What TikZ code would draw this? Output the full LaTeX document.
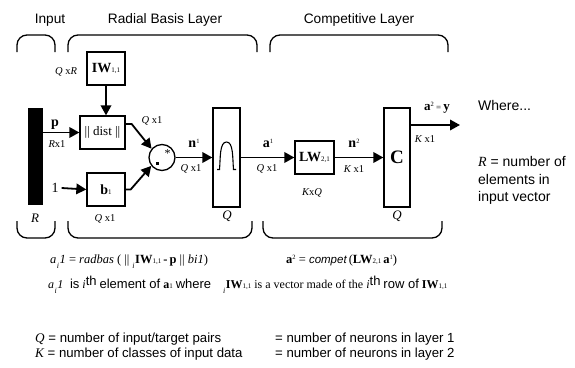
\documentclass[tikz,border=0pt]{standalone}
\usepackage{fontspec}
\setmainfont{Liberation Sans}
\newfontfamily\hel{Liberation Sans}
\newfontfamily\tms{Liberation Serif}
\usetikzlibrary{arrows.meta}
\newcommand{\fs}[1]{\fontsize{#1}{#1}\selectfont}
\newcommand{\bsub}[1]{{\tms\mdseries\upshape\fs{7}#1}}
\newcommand{\bsup}[1]{\raisebox{3.5pt}{\tms\mdseries\upshape\fs{6.5}#1}}
\newcommand{\isub}{\raisebox{-5pt}{\fs{8}\itshape i}}
\newcommand{\aione}{{\itshape a}\kern0.5pt\isub\kern0.5pt{\itshape 1}}
\begin{document}
\begin{tikzpicture}[x=1pt,y=-1pt,
  blk/.style={draw, line width=1.3pt, fill=white, inner sep=0pt},
  sig/.style={line width=1.8pt, -{Triangle[length=10pt,width=10.5pt]}},
  brc/.style={line width=1.3pt, rounded corners=10pt},
  dim/.style={font=\tms\fs{10.5}, inner sep=0pt},
  lbl/.style={font=\hel\fs{13.7}, inner sep=0pt},
  txt/.style={inner sep=0pt, anchor=base west}]
\useasboundingbox (0,0) rectangle (575,367);
\fill[white] (0,0) rectangle (575,367);

% titles
\node[lbl, anchor=base] (tin) at (50,23) {Input};
\node[lbl, anchor=base] (trb) at (165,23) {Radial Basis Layer};
\node[lbl, anchor=base] (tcl) at (359,23) {Competitive Layer};

% braces
\draw[brc] (17,52) -- (17,35) -- (55,35) -- (55,52);
\draw[brc] (68,52) -- (68,35) -- (257,35) -- (257,52);
\draw[brc] (270,52) -- (270,35) -- (448,35) -- (448,52);
\draw[brc] (17,221) -- (17,238) -- (55,238) -- (55,221);
\draw[brc] (68,221) -- (68,238) -- (252,238) -- (252,221);
\draw[brc] (263,221) -- (263,238) -- (442,238) -- (442,221);

% input bar
\node[fill=black, minimum width=15pt, minimum height=97pt, inner sep=0pt] (bar) at (35.5,156.5) {};
\node[font=\tms\fs{13}\itshape, inner sep=0pt] (rlab) at (35,218) {R};

% boxes
\node[blk, minimum width=38pt, minimum height=33pt] (iw) at (106,68.5) {\tms\bfseries\fs{14}IW\bsub{1,1}};
\node[blk, minimum width=45pt, minimum height=33pt] (dist) at (102.5,132.5) {\tms\fs{13}|| dist ||};
\node[blk, minimum width=38pt, minimum height=33pt] (b) at (106,189.5) {\tms\bfseries\fs{14}b\bsub{1}};
\node[circle, draw, line width=1.3pt, minimum size=26pt, inner sep=0pt] (circ) at (162,157.5) {};
\node[blk, minimum width=27pt, minimum height=99pt] (tf) at (226.5,157.5) {};
\node[blk, minimum width=39pt, minimum height=33pt] (lw) at (314.5,157.5) {\tms\bfseries\fs{14}LW\bsub{2,1}};
\node[blk, minimum width=26pt, minimum height=99pt] (c) at (397,157.5) {\tms\bfseries\fs{19}C};
\coordinate (out) at (460,125);

% circle content
\fill (155.5,161.5) rectangle (159,165);
\node[font=\tms\fs{12}, inner sep=0pt] (star) at (167.5,153.5) {*};

% bell
\draw[line width=1.1pt] (217,169.5) -- (219.5,169.5) .. controls (220.5,158) and (219.5,142) .. (226.5,142)
  .. controls (233.5,142) and (232.5,158) .. (233.5,169.5) -- (236,169.5);

% connectors
\draw[sig] (bar.east |- dist.west) -- (dist.west);
\draw[sig] (iw.south) -- (iw.south |- dist.north);
\node[font=\tms\fs{14}, inner sep=0pt] (one) at (55,188) {1};
\draw[sig] (one.east) ++(3,0) -- (b.west);
\draw[sig] ([yshift=8.5pt]dist.east) -- ++(6,0) -- (circ.140);
\draw[sig] (b.east) -- ++(5,0) -- (circ.218);
\draw[sig] (circ.east) -- (tf.west);
\draw[sig] (tf.east) -- (lw.west);
\draw[sig] (lw.east) -- (c.west);
\draw[sig] (c.east |- out) -- (out);

% labels
\node[dim] (lqr) at (66,72) {\itshape Q \upshape x\itshape R};
\node[font=\tms\bfseries\fs{14}, inner sep=0pt, anchor=base] (lp) at (55,126) {p};
\node[dim] (lrx) at (57,144) {\itshape R\upshape x1};
\node[dim] (lqb) at (105,218.5) {\itshape Q \upshape x1};
\node[dim] (lqc) at (152,121) {\itshape Q \upshape x1};
\node[font=\tms\bfseries\fs{14}, inner sep=0pt, anchor=base] (ln1) at (194,147) {n\bsup{1}};
\node[dim] (lqn) at (191,169) {\itshape Q \upshape x1};
\node[font=\tms\fs{13}\itshape, inner sep=0pt] (lq1) at (227,216) {Q};
\node[font=\tms\bfseries\fs{14}, inner sep=0pt, anchor=base] (la1) at (268,147) {a\bsup{1}};
\node[dim] (lqa) at (267,169) {\itshape Q \upshape x1};
\node[dim] (lkq) at (312,193) {\itshape K\upshape x\itshape Q};
\node[font=\tms\bfseries\fs{14}, inner sep=0pt, anchor=base] (ln2) at (354,147) {n\bsup{2}};
\node[dim] (lkn) at (354,169) {\itshape K \upshape x1};
\node[font=\tms\fs{13}\itshape, inner sep=0pt] (lq2) at (397,216) {Q};
\node[font=\tms\bfseries\fs{13}, inner sep=0pt, anchor=base] (la2) at (437,110) {a\bsup{2}\,{\mdseries\fs{9}=}\,y};
\node[dim] (lko) at (425,139) {\itshape K \upshape x1};

% where text
\node[txt, font=\hel\fs{14}] (wh) at (478,110) {Where...};
\node[txt, font=\hel\fs{14}] (w1) at (478,166) {{\tms\itshape R} = number of};
\node[txt, font=\hel\fs{14}] (w2) at (478,184) {elements in};
\node[txt, font=\hel\fs{14}] (w3) at (478,201) {input vector};

% equations
\node[txt, font=\tms\fs{12.5}] (eq1) at (50,263) {\aione{} = {\itshape radbas} ( || \isub\kern0.5pt{\bfseries IW}\bsub{1,1}\,{\bfseries -}\,{\bfseries p} || {\itshape bi1})};
\node[txt, font=\tms\fs{12.5}] (eq2) at (286,263) {{\bfseries a}\bsup{2} = {\hel\itshape\fs{11.5}compet}\,({\bfseries LW}\bsub{2,1}\,{\bfseries a}\bsup{1})};
\node[txt, font=\tms\fs{12}] (eq3) at (48,288) {\aione{} {\hel\fs{13} is} {\itshape i}\raisebox{3pt}{\hel\fs{13}th} {\hel\fs{13}element of} {\bfseries a}\bsub{1} {\hel\fs{13}where}\quad\isub\kern0.5pt{\bfseries IW}\bsub{1,1} is a vector made of the {\itshape i}\raisebox{3pt}{\hel\fs{13}th} {\hel\fs{13}row of} {\bfseries IW}\bsub{1,1}};

\node[txt, font=\hel\fs{13.2}] (d1) at (35,342) {{\tms\itshape Q} = number of input/target pairs};
\node[txt, font=\hel\fs{13.2}] (d2) at (35,357) {{\tms\itshape K} = number of classes of input data};
\node[txt, font=\hel\fs{13.2}] (d3) at (275,342) {= number of neurons in layer 1};
\node[txt, font=\hel\fs{13.2}] (d4) at (275,357) {= number of neurons in layer 2};
\end{tikzpicture}
\end{document}
